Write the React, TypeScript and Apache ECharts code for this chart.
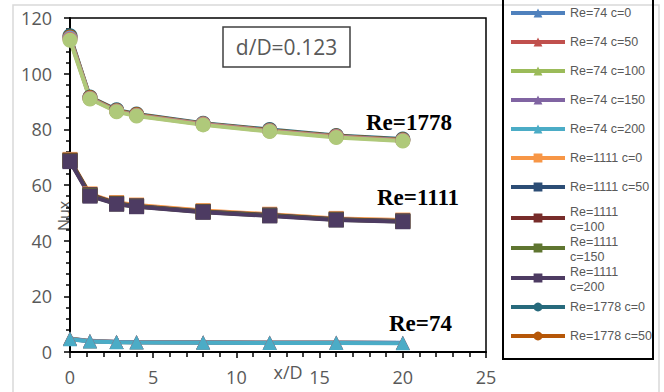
import React, { useEffect, useRef } from "react";
import * as echarts from "echarts";

const xValues = [0, 1.2, 2.8, 4, 8, 12, 16, 20];

const re74 = {
  c0: [4.9, 4.0, 3.7, 3.6, 3.5, 3.4, 3.4, 3.3],
  c50: [4.8, 3.9, 3.6, 3.5, 3.4, 3.3, 3.3, 3.2],
  c100: [4.8, 3.9, 3.6, 3.5, 3.4, 3.3, 3.3, 3.2],
  c150: [4.7, 3.9, 3.6, 3.5, 3.4, 3.3, 3.3, 3.2],
  c200: [4.6, 3.8, 3.5, 3.4, 3.3, 3.2, 3.2, 3.1],
};
const re1111 = {
  c0: [69.2, 56.8, 53.7, 52.8, 50.8, 49.5, 48.0, 47.4],
  c50: [68.9, 56.5, 53.4, 52.5, 50.5, 49.2, 47.7, 47.1],
  c100: [68.8, 56.4, 53.3, 52.4, 50.4, 49.1, 47.6, 47.0],
  c150: [68.6, 56.2, 53.2, 52.3, 50.3, 49.0, 47.5, 46.9],
  c200: [68.4, 56.0, 53.1, 52.2, 50.2, 48.9, 47.4, 46.8],
};
const re1778 = {
  c0: [113.6, 91.6, 87.0, 85.5, 82.2, 79.9, 77.8, 76.5],
  c50: [113.2, 91.4, 86.8, 85.3, 82.0, 79.7, 77.6, 76.3],
  c100: [112.8, 91.2, 86.6, 85.1, 81.9, 79.5, 77.4, 76.1],
  c150: [112.4, 91.1, 86.5, 85.0, 81.8, 79.4, 77.3, 76.0],
  c200: [112.0, 90.9, 86.3, 84.8, 81.6, 79.2, 77.1, 75.8],
};

const cLevels = ["c0", "c50", "c100", "c150", "c200"];
const cLabels = ["c=0", "c=50", "c=100", "c=150", "c=200"];

const colors74 = ["#4F81BD", "#C0504D", "#9BBB59", "#8064A2", "#4BACC6"];
const colors1111 = ["#F79646", "#2C4D75", "#772C2A", "#5F7530", "#4D3B62"];
const colors1778 = ["#276A7C", "#B65708", "#729ACA", "#CD7371", "#AFC97A"];

const xTicks = { min: 0, max: 25, interval: 5 };
const yTicks = { min: 0, max: 120, interval: 20 };

const legendNames = [
  "Re=74 c=0",
  "Re=74 c=50",
  "Re=74 c=100",
  "Re=74 c=150",
  "Re=74 c=200",
  "Re=1111 c=0",
  "Re=1111 c=50",
  "Re=1111 c=100",
  "Re=1111 c=150",
  "Re=1111 c=200",
  "Re=1778 c=0",
  "Re=1778 c=50",
];
const wrappedNames = ["Re=1111 c=100", "Re=1111 c=150", "Re=1111 c=200"];
const legendCenters = [13, 42, 71, 100, 129, 158, 187, 218, 248, 278, 307, 336];

const FONT = "'Open Sans', Lato, sans-serif";
const LEGEND_FONT = "'Liberation Sans', Arial, sans-serif";
const SERIF = "'Liberation Serif', 'Times New Roman', serif";

function buildSeries() {
  const groups = [
    { re: "74", data: re74, colors: colors74, symbol: "triangle", size: 14 },
    { re: "1111", data: re1111, colors: colors1111, symbol: "rect", size: 15 },
    { re: "1778", data: re1778, colors: colors1778, symbol: "circle", size: 15 },
  ];
  const out: any[] = [];
  groups.forEach((g) => {
    cLevels.forEach((c, i) => {
      const vals = (g.data as any)[c] as number[];
      out.push({
        name: `Re=${g.re} ${cLabels[i]}`,
        type: "line",
        data: xValues.map((x, k) => [x, vals[k]]),
        symbol: g.symbol,
        symbolSize: g.size,
        showSymbol: true,
        color: g.colors[i],
        lineStyle: { width: 4, color: g.colors[i] },
        itemStyle: { color: g.colors[i] },
        emphasis: { disabled: true },
      });
    });
  });
  return out;
}

function buildLegends() {
  const txt = { color: "#595959", fontSize: 12.5, fontFamily: LEGEND_FONT };
  return legendNames.map((name, i) => {
    const wrapped = wrappedNames.includes(name);
    const parts = name.split(" ");
    return {
      orient: "vertical",
      left: 509,
      top: legendCenters[i] - (wrapped ? 15 : 7),
      padding: 0,
      itemWidth: 54,
      itemHeight: 11,
      itemGap: 0,
      selectedMode: false,
      data: [name],
      formatter: (n: string) => (wrapped ? `{a|${parts[0]}}\n{b|${parts[1]}}` : n),
      lineStyle: { width: 4 },
      textStyle: {
        ...txt,
        lineHeight: 14,
        rich: {
          a: { ...txt, lineHeight: 18 },
          b: { ...txt, lineHeight: 12 },
        },
      },
    };
  });
}

export default function App() {
  const ref = useRef<HTMLDivElement>(null);
  useEffect(() => {
    if (!ref.current) return;
    const chart = echarts.init(ref.current, undefined, { renderer: "svg" });
    const axisLabel = { color: "#595959", fontSize: 18, fontFamily: FONT };
    chart.setOption({
      animation: false,
      backgroundColor: "#ffffff",
      grid: {
        left: 70,
        top: 18,
        right: 178,
        bottom: 40,
        show: true,
        borderColor: "#000000",
        borderWidth: 1.5,
        containLabel: false,
      },
      xAxis: {
        type: "value",
        ...xTicks,
        axisLine: { show: true, onZero: false, lineStyle: { color: "#000", width: 2 } },
        axisTick: { show: true, length: 6, lineStyle: { color: "#000", width: 1.5 } },
        minorTick: { show: true, splitNumber: 5, length: 5, lineStyle: { color: "#000", width: 1.5 } },
        splitLine: { show: false },
        axisLabel: { ...axisLabel, margin: 16 },
      },
      yAxis: {
        type: "value",
        ...yTicks,
        axisLine: { show: true, onZero: false, lineStyle: { color: "#000", width: 2 } },
        axisTick: { show: true, length: 6, lineStyle: { color: "#000", width: 1.5 } },
        minorTick: { show: true, splitNumber: 5, length: 4, lineStyle: { color: "#000", width: 1.5 } },
        splitLine: { show: false },
        axisLabel: { ...axisLabel, margin: 18 },
      },
      legend: buildLegends(),
      series: buildSeries(),
      graphic: [
        {
          type: "rect",
          shape: { x: 13, y: 5, width: 646, height: 400 },
          style: { fill: "none", stroke: "#d9d9d9", lineWidth: 1.5 },
          silent: true,
          z: -10,
        },
        {
          type: "rect",
          shape: { x: 503, y: -5, width: 150, height: 364 },
          style: { fill: "none", stroke: "#000", lineWidth: 2 },
          silent: true,
        },
        {
          type: "rect",
          shape: { x: 223, y: 27, width: 127, height: 40 },
          style: { fill: "#fff", stroke: "#404040", lineWidth: 1.5 },
          silent: true,
        },
        {
          type: "text",
          x: 286.5,
          y: 47,
          style: {
            text: "d/D=0.123",
            fill: "#595959",
            font: `21px ${FONT}`,
            align: "center",
            verticalAlign: "middle",
          },
          silent: true,
        },
        {
          type: "text",
          x: 366,
          y: 122,
          style: { text: "Re=1778", fill: "#000", font: `bold 23px ${SERIF}`, verticalAlign: "middle" },
          silent: true,
        },
        {
          type: "text",
          x: 377,
          y: 197,
          style: { text: "Re=1111", fill: "#000", font: `bold 23px ${SERIF}`, verticalAlign: "middle" },
          silent: true,
        },
        {
          type: "text",
          x: 389,
          y: 323,
          style: { text: "Re=74", fill: "#000", font: `bold 23px ${SERIF}`, verticalAlign: "middle" },
          silent: true,
        },
        {
          type: "text",
          x: 63.5,
          y: 216,
          rotation: Math.PI / 2,
          style: {
            text: "Nux",
            fill: "#595959",
            font: `16px ${FONT}`,
            align: "center",
            verticalAlign: "middle",
          },
          silent: true,
        },
        {
          type: "text",
          x: 288,
          y: 372,
          style: {
            text: "x/D",
            fill: "#595959",
            font: `18px ${FONT}`,
            align: "center",
            verticalAlign: "middle",
          },
          silent: true,
        },
      ],
    });
    return () => chart.dispose();
  }, []);
  return (
    <div
      ref={ref}
      style={{ position: "fixed", left: 0, top: 0, width: 664, height: 392 }}
    />
  );
}
